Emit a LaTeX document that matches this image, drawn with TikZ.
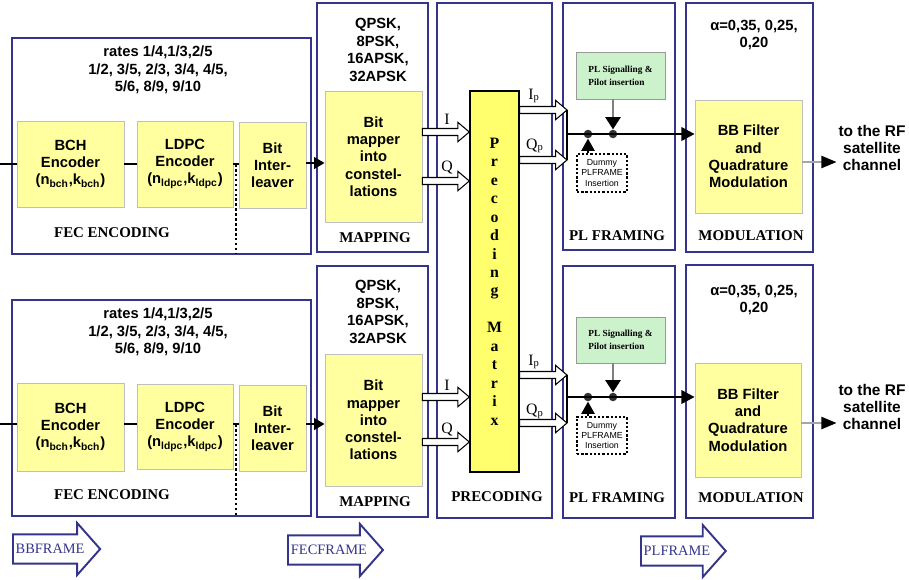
\documentclass[tikz,border=0pt]{standalone}
\usepackage{fontspec}
\setmainfont{Liberation Serif}
\setsansfont{Liberation Sans}
\usetikzlibrary{arrows.meta,calc,shapes.arrows}

\definecolor{frameblue}{RGB}{52,52,140}
\definecolor{boxyellow}{RGB}{255,255,160}
\definecolor{matyellow}{RGB}{255,255,110}
\definecolor{siggreen}{RGB}{204,242,204}

\begin{document}
\begin{tikzpicture}[x=0.02cm, y=-0.02cm,
    stage/.style={draw=frameblue, line width=1.1pt},
    block/.style={draw=black!25, fill=boxyellow, align=center, inner sep=0pt,
        font=\sffamily\bfseries\fontsize{8.4}{9.8}\selectfont},
    sftext/.style={align=center, font=\sffamily\bfseries\fontsize{8.4}{10}\selectfont},
    title/.style={font=\bfseries\fontsize{8.5}{10}\selectfont},
    flow/.style={line width=1.6pt},
    dotline/.style={line width=1.5pt, dash pattern=on 1.5pt off 1.3pt},
    dot/.style={circle, fill=black!80, inner sep=0pt, minimum size=0.17cm},
    sigbox/.style={draw=black!40, fill=siggreen, align=left, inner sep=0pt,
        minimum width=1.78cm, minimum height=0.94cm, font=\bfseries\fontsize{5.3}{7.5}\selectfont},
    dummybox/.style={draw, line width=1.3pt, dash pattern=on 1.3pt off 1.1pt, inner sep=0pt,
        minimum width=1cm, minimum height=0.76cm, align=center, font=\sffamily\fontsize{5}{5.8}\selectfont},
    hollow/.style={draw, fill=white, line width=0.6pt,
        to path={let \p1=(\tikztostart), \p2=(\tikztotarget) in
            (\x1,\y1+2pt) -- (\x2-6.5pt,\y1+2pt) -- (\x2-6.5pt,\y1+5.5pt) -- (\x2,\y1)
            -- (\x2-6.5pt,\y1-5.5pt) -- (\x2-6.5pt,\y1-2pt) -- (\x1,\y1-2pt) -- cycle}},
    framearrow/.style={single arrow, draw=frameblue, line width=1.1pt, fill=white, text=frameblue,
        font=\fontsize{8.2}{10}\selectfont, single arrow head extend=6.5pt, single arrow tip angle=97,
        inner xsep=1pt, inner ysep=5pt, text height=5.5pt, text depth=0pt, anchor=tail}
]
\useasboundingbox (0,0) rectangle (909,579);

% Stage frames
\draw[stage] (12,38) rectangle (311,254);
\draw[stage] (317,3) rectangle (428,252);
\draw[stage] (437,3) rectangle (552,518);
\draw[stage] (563,3) rectangle (675,250);
\draw[stage] (686,3) rectangle (813,252);
\draw[stage] (12,300) rectangle (311,516);
\draw[stage] (317,266) rectangle (428,517);
\draw[stage] (563,266) rectangle (675,518);
\draw[stage] (686,265) rectangle (813,518);

% Stage labels
\node[title] (fec1) at (112,233) {FEC ENCODING};
\node[title] (mapl1) at (375,238) {MAPPING};
\node[title] (plfl1) at (617,236) {PL FRAMING};
\node[title] (modl1) at (751,236) {MODULATION};
\node[title] (fec2) at (112,495) {FEC ENCODING};
\node[title] (mapl2) at (375,502) {MAPPING};
\node[title] (prel) at (497,497) {PRECODING};
\node[title] (plfl2) at (617,498) {PL FRAMING};
\node[title] (modl2) at (751,498) {MODULATION};

% Parameters
\node[sftext] (rates1) at (158,70) {rates 1/4,1/3,2/5\\1/2, 3/5, 2/3, 3/4, 4/5,\\5/6, 8/9, 9/10};
\node[sftext] (cons1) at (378,50) {QPSK,\\8PSK,\\16APSK,\\32APSK};
\node[sftext] (alpha1) at (754,35) {α=0,35, 0,25,\\0,20};
\node[sftext] (rates2) at (158,332) {rates 1/4,1/3,2/5\\1/2, 3/5, 2/3, 3/4, 4/5,\\5/6, 8/9, 9/10};
\node[sftext] (cons2) at (378,312) {QPSK,\\8PSK,\\16APSK,\\32APSK};
\node[sftext] (alpha2) at (754,300) {α=0,35, 0,25,\\0,20};

% Blocks, upper chain
\node[block, minimum width=2.14cm, minimum height=1.72cm] (bch1) at (70.5,164) {BCH\\Encoder\\(n\textsubscript{bch},k\textsubscript{bch})};
\node[block, minimum width=1.92cm, minimum height=1.72cm] (ldpc1) at (185,164) {LDPC\\Encoder\\(n\textsubscript{ldpc},k\textsubscript{ldpc})};
\node[block, minimum width=1.34cm, minimum height=1.72cm] (bil1) at (272.5,165) {Bit\\Inter-\\leaver};
\node[block, minimum width=1.94cm, minimum height=2.62cm] (map1) at (373.5,156.5) {Bit\\mapper\\into\\constel-\\lations};
\node[sigbox] (sig1) at (620.5,75.5) {PL Signalling \&\\Pilot insertion};
\node[dummybox] (dum1) at (602,173) {Dummy\\PLFRAME\\Insertion};
\node[block, minimum width=2.14cm, minimum height=2.26cm] (bbf1) at (748.5,156.5) {BB Filter\\and\\Quadrature\\Modulation};
\node[sftext, font=\sffamily\bfseries\fontsize{8.8}{9.6}\selectfont, inner sep=1pt] (rf1) at (872,148) {to the RF\\satellite\\channel};

% Blocks, lower chain
\node[block, minimum width=2.14cm, minimum height=1.76cm] (bch2) at (70.5,427) {BCH\\Encoder\\(n\textsubscript{bch},k\textsubscript{bch})};
\node[block, minimum width=1.92cm, minimum height=1.70cm] (ldpc2) at (185,426.5) {LDPC\\Encoder\\(n\textsubscript{ldpc},k\textsubscript{ldpc})};
\node[block, minimum width=1.34cm, minimum height=1.72cm] (bil2) at (272.5,428) {Bit\\Inter-\\leaver};
\node[block, minimum width=1.94cm, minimum height=2.64cm] (map2) at (373.5,420) {Bit\\mapper\\into\\constel-\\lations};
\node[sigbox, minimum height=0.92cm] (sig2) at (620.5,340) {PL Signalling \&\\Pilot insertion};
\node[dummybox, minimum height=0.74cm] (dum2) at (602,435.5) {Dummy\\PLFRAME\\Insertion};
\node[block, minimum width=2.12cm, minimum height=2.28cm] (bbf2) at (748,420) {BB Filter\\and\\Quadrature\\Modulation};
\node[sftext, font=\sffamily\bfseries\fontsize{8.8}{9.6}\selectfont, inner sep=1pt] (rf2) at (872,407) {to the RF\\satellite\\channel};

% Precoding matrix
\node[draw, fill=matyellow, line width=0.8pt, minimum width=0.98cm, minimum height=7.62cm, inner sep=0pt,
    align=center, font=\bfseries\fontsize{9}{10.5}\selectfont] (mat) at (494.5,281.5)
    {P\\r\\e\\c\\o\\d\\i\\n\\g\\[10.5pt]M\\a\\t\\r\\i\\x};

% Bit flow
\coordinate (in1) at (0,164);
\coordinate (in2) at (0,424);
\draw[flow] (in1) -- (bch1.west |- in1);
\draw[flow] (bch1) -- (ldpc1);
\draw[flow] (ldpc1) -- (ldpc1 -| bil1.west);
\draw[flow, -{Triangle[length=6pt, width=6.5pt]}] (bil1.east |- 0,163) -- (map1.west |- 0,163);
\draw[dotline] (236,164) -- (236,254);
\draw[flow] (in2) -- (bch2.west |- in2);
\draw[flow] (bch2.east |- in2) -- (ldpc2.west |- in2);
\draw[flow] (ldpc2.east |- in2) -- (bil2.west |- in2);
\draw[flow, -{Triangle[length=6pt, width=6.5pt]}] (bil2.east |- in2) -- (map2.west |- in2);
\draw[dotline] (236,424) -- (236,516);

% I/Q into and out of the matrix
\draw[hollow] (map1.east |- 0,132) to (mat.west |- 0,132);
\draw[hollow] (map1.east |- 0,181) to (mat.west |- 0,181);
\draw[hollow] (map2.east |- 0,397) to (mat.west |- 0,397);
\draw[hollow] (map2.east |- 0,442) to (mat.west |- 0,442);
\node[font=\fontsize{9}{10}\selectfont] (i1) at (447,119) {I};
\node[font=\fontsize{9}{10}\selectfont] (q1) at (447,168) {Q};
\node[font=\fontsize{9}{10}\selectfont] (i2) at (447,385) {I};
\node[font=\fontsize{9}{10}\selectfont] (q2) at (447,430) {Q};

\coordinate (ip1) at (567,110);
\coordinate (qp1) at (567,160);
\coordinate (ip2) at (567,375);
\coordinate (qp2) at (567,423);
\draw[hollow] (mat.east |- ip1) to (ip1);
\draw[hollow] (mat.east |- qp1) to (qp1);
\draw[hollow] (mat.east |- ip2) to (ip2);
\draw[hollow] (mat.east |- qp2) to (qp2);
\node[font=\fontsize{9}{10}\selectfont] (ipl1) at (534,96) {I\textsubscript{p}};
\node[font=\fontsize{9}{10}\selectfont] (qpl1) at (535,146) {Q\textsubscript{p}};
\node[font=\fontsize{9}{10}\selectfont] (ipl2) at (534,362) {I\textsubscript{p}};
\node[font=\fontsize{9}{10}\selectfont] (qpl2) at (535,411) {Q\textsubscript{p}};

% PL framing
\draw[flow] (ip1) -- (qp1);
\draw[flow] (ip2) -- (qp2);
\coordinate (jn1) at (567,134);
\coordinate (jn2) at (567,397);
\node[dot] (d11) at (588,134) {};
\node[dot] (d12) at (613,134) {};
\node[dot] (d21) at (588,397) {};
\node[dot] (d22) at (613,397) {};
\draw[flow, -{Triangle[length=7.5pt, width=7.5pt]}] (jn1) -- (bbf1.west |- jn1);
\draw[flow, -{Triangle[length=7.5pt, width=7.5pt]}] (jn2) -- (bbf2.west |- jn2);
\draw[line width=1.2pt, -{Triangle[length=7pt, width=7.5pt]}] (dum1.north -| d11) -- (d11.south);
\draw[line width=1.2pt, -{Triangle[length=7pt, width=7.5pt]}] (dum2.north -| d21) -- (d21.south);
\draw[black!50, line width=1.6pt, -{Triangle[length=7pt, width=8.5pt, color=black]}] (sig1.south -| d12) -- (d12.north);
\draw[black!50, line width=1.6pt, -{Triangle[length=7pt, width=8.5pt, color=black]}] (sig2.south -| d22) -- (d22.north);

% To the RF channel
\draw[black!35, line width=0.6pt, -{Triangle[length=8.5pt, width=7pt, color=black]}] (bbf1.east |- 0,162) -- (rf1.west |- 0,162);
\draw[black!35, line width=0.6pt, -{Triangle[length=8.5pt, width=7pt, color=black]}] (bbf2.east |- 0,423) -- (rf2.west |- 0,423);

% Frame formats
\node[framearrow, minimum height=1.66cm] (bbframe) at (12,549) {BBFRAME};
\node[framearrow, minimum height=1.90cm] (fecframe) at (287,550) {FECFRAME};
\node[framearrow, minimum height=1.66cm] (plframe) at (640,551) {PLFRAME};
\end{tikzpicture}
\end{document}
